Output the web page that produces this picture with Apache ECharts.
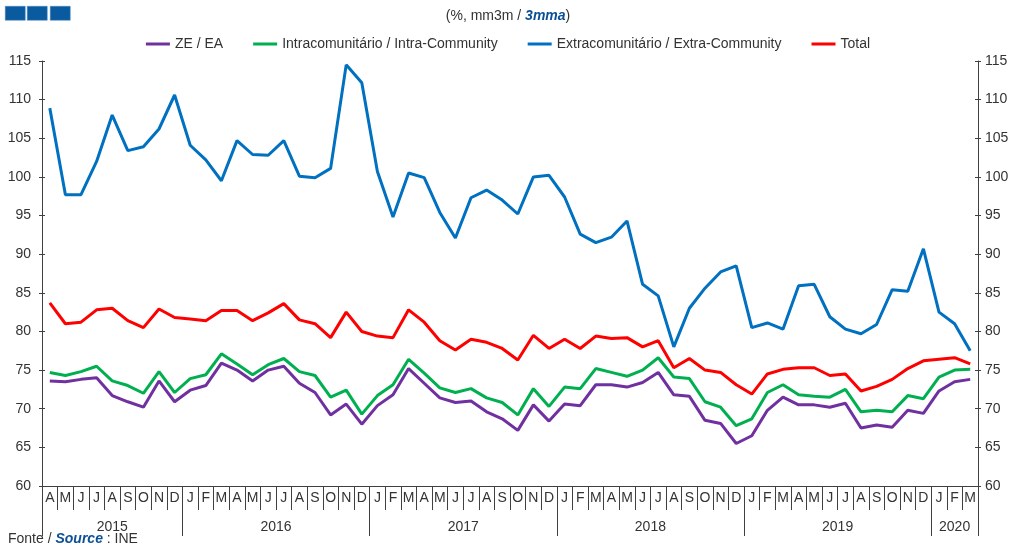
<!DOCTYPE html>
<html>
<head>
<meta charset="utf-8">
<script src="https://cdn.jsdelivr.net/npm/echarts@6/dist/echarts.min.js"></script>
<style>
  html, body { margin: 0; padding: 0; background: #fff; }
  #chart { width: 1016px; height: 544px; }
</style>
</head>
<body>
<div id="chart"></div>
<script>
// months Apr 2015 .. Mar 2020
const years = ['2015', '2016', '2017', '2018', '2019', '2020'];
const monthsPerYear = [9, 12, 12, 12, 12, 3];
const monthLetters = ['J', 'F', 'M', 'A', 'M', 'J', 'J', 'A', 'S', 'O', 'N', 'D'];

const ze = [73.6, 73.5, 73.8, 74.0, 71.7, 70.9, 70.2, 73.6, 70.9,
  72.4, 73.0, 75.9, 75.0, 73.6, 75.0, 75.5, 73.3, 72.1, 69.2, 70.6, 68.0,
  70.4, 71.8, 75.2, 73.3, 71.4, 70.8, 71.0, 69.6, 68.7, 67.2, 70.5, 68.4,
  70.6, 70.4, 73.1, 73.1, 72.8, 73.4, 74.7, 71.8, 71.6, 68.5, 68.1, 65.5,
  66.5, 69.8, 71.5, 70.5, 70.5, 70.2, 70.7, 67.5, 67.9, 67.6, 69.8, 69.4,
  72.3, 73.5, 73.8];
const intra = [74.7, 74.3, 74.8, 75.5, 73.6, 73.0, 72.0, 74.8, 72.1,
  73.9, 74.4, 77.1, 75.8, 74.4, 75.7, 76.5, 74.8, 74.3, 71.5, 72.4, 69.3,
  71.7, 73.1, 76.4, 74.6, 72.7, 72.1, 72.6, 71.4, 70.8, 69.2, 72.6, 70.3,
  72.8, 72.6, 75.2, 74.7, 74.2, 75.0, 76.6, 74.1, 73.9, 70.9, 70.2, 67.8,
  68.7, 72.1, 73.1, 71.8, 71.6, 71.5, 72.5, 69.6, 69.8, 69.6, 71.7, 71.3,
  74.1, 75.0, 75.1];
const extra = [108.9, 97.7, 97.7, 102.0, 108.0, 103.4, 103.9, 106.2, 110.6,
  104.1, 102.2, 99.5, 104.7, 102.9, 102.8, 104.7, 100.1, 99.9, 101.1, 114.5, 112.2,
  100.7, 94.8, 100.5, 99.9, 95.4, 92.1, 97.3, 98.3, 97.0, 95.2, 100.0, 100.2,
  97.4, 92.6, 91.5, 92.2, 94.3, 86.1, 84.6, 78.0, 83.0, 85.6, 87.7, 88.5,
  80.5, 81.1, 80.3, 85.9, 86.1, 81.9, 80.3, 79.7, 80.9, 85.4, 85.2, 90.7,
  82.5, 81.0, 77.5];
const total = [83.7, 81.0, 81.2, 82.8, 83.0, 81.4, 80.5, 82.9, 81.8,
  81.6, 81.4, 82.7, 82.7, 81.4, 82.4, 83.6, 81.5, 81.0, 79.2, 82.5, 80.0,
  79.4, 79.2, 82.8, 81.2, 78.8, 77.6, 79.0, 78.6, 77.8, 76.3, 79.5, 77.8,
  79.0, 77.8, 79.4, 79.1, 79.2, 78.0, 78.8, 75.3, 76.5, 75.0, 74.7, 73.1,
  71.9, 74.5, 75.1, 75.3, 75.3, 74.3, 74.5, 72.3, 72.9, 73.8, 75.2, 76.2,
  76.4, 76.6, 75.8];

// month letters for the first axis
const months = [];
monthsPerYear.forEach((n, y) => {
  const start = y === 0 ? 12 - n : 0;
  for (let k = 0; k < n; k++) months.push(monthLetters[start + k]);
});

// second axis in half-month steps: year label at the middle, tick at year boundaries
const halfCount = months.length * 2;
const yearAxisData = new Array(halfCount + 1).fill('');
const yearTicks = new Set([0]);
let pos = 0;
monthsPerYear.forEach((n, y) => {
  yearAxisData[pos * 2 + n] = years[y];
  pos += n;
  yearTicks.add(pos * 2);
});

const font = "'Liberation Sans', Arial, sans-serif";
const axisColor = '#404040';
const textColor = '#333';

function yAx(position, inside, showLabel) {
  return {
    type: 'value',
    position: position,
    min: 60,
    max: 115,
    interval: 5,
    axisLine: { show: !inside, lineStyle: { color: axisColor } },
    axisTick: { show: true, inside: inside, length: 3, lineStyle: { color: axisColor } },
    axisLabel: {
      show: showLabel,
      color: textColor,
      fontSize: 14,
      fontFamily: font,
      margin: position === 'left' ? 11 : 7,
    },
    splitLine: { show: false },
  };
}

function lineSeries(name, data, color) {
  return {
    name: name,
    type: 'line',
    data: data,
    xAxisIndex: 0,
    yAxisIndex: 0,
    symbol: 'none',
    lineStyle: { color: color, width: 3 },
    itemStyle: { color: color },
  };
}

const myChart = echarts.init(document.getElementById('chart'));

const option = {
  animation: false,
  backgroundColor: '#fff',
  title: {
    text: '{a|(%, mm3m / }{b|3mma}{a|)}',
    left: 'center',
    top: 4,
    textStyle: {
      rich: {
        a: { color: textColor, fontSize: 14, fontFamily: font, fontWeight: 'normal' },
        b: { color: '#0b4f96', fontSize: 14, fontFamily: font, fontWeight: 'bold', fontStyle: 'italic' },
      },
    },
  },
  legend: {
    top: 32,
    left: 'center',
    icon: 'rect',
    itemWidth: 24,
    itemHeight: 3,
    itemGap: 30,
    textStyle: { color: textColor, fontSize: 14, fontFamily: font },
    data: ['ZE / EA', 'Intracomunitário / Intra-Community', 'Extracomunitário / Extra-Community', 'Total'],
  },
  grid: { left: 42, right: 38, top: 61, bottom: 58, containLabel: false },
  xAxis: [
    {
      type: 'category',
      data: months,
      boundaryGap: true,
      position: 'bottom',
      axisLine: { show: true, lineStyle: { color: axisColor } },
      axisTick: { show: true, interval: 0, length: 24, lineStyle: { color: axisColor } },
      axisLabel: { interval: 0, color: textColor, fontSize: 14, fontFamily: font, margin: 5 },
    },
    {
      type: 'category',
      data: yearAxisData,
      boundaryGap: false,
      position: 'bottom',
      axisLine: { show: false },
      axisTick: {
        show: true,
        length: 50,
        interval: (i) => yearTicks.has(i),
        lineStyle: { color: axisColor },
      },
      axisLabel: {
        interval: (i, v) => v !== '',
        color: textColor,
        fontSize: 14,
        fontFamily: font,
        margin: 34,
      },
    },
  ],
  yAxis: [
    yAx('left', false, true),
    yAx('right', false, true),
    yAx('left', true, false),
    yAx('right', true, false),
  ],
  series: [
    lineSeries('ZE / EA', ze, '#7030a0'),
    lineSeries('Intracomunitário / Intra-Community', intra, '#00b050'),
    lineSeries('Extracomunitário / Extra-Community', extra, '#0070c0'),
    lineSeries('Total', total, '#ff0000'),
  ],
  graphic: [
    { type: 'rect', left: 5, top: 6, shape: { width: 20, height: 14 }, style: { fill: '#0a5aa0', stroke: '#4a86c0', lineWidth: 0.5 } },
    { type: 'rect', left: 27, top: 6, shape: { width: 20, height: 14 }, style: { fill: '#0a5aa0', stroke: '#4a86c0', lineWidth: 0.5 } },
    { type: 'rect', left: 50, top: 6, shape: { width: 20, height: 14 }, style: { fill: '#0a5aa0', stroke: '#4a86c0', lineWidth: 0.5 } },
    {
      type: 'text',
      left: 8,
      top: 532,
      style: {
        text: '{a|Fonte / }{b|Source}{a| : INE}',
        rich: {
          a: { fill: textColor, fontSize: 14, fontFamily: font },
          b: { fill: '#0b4f96', fontSize: 14, fontFamily: font, fontWeight: 'bold', fontStyle: 'italic' },
        },
      },
    },
  ],
};

myChart.setOption(option);
</script>
</body>
</html>
